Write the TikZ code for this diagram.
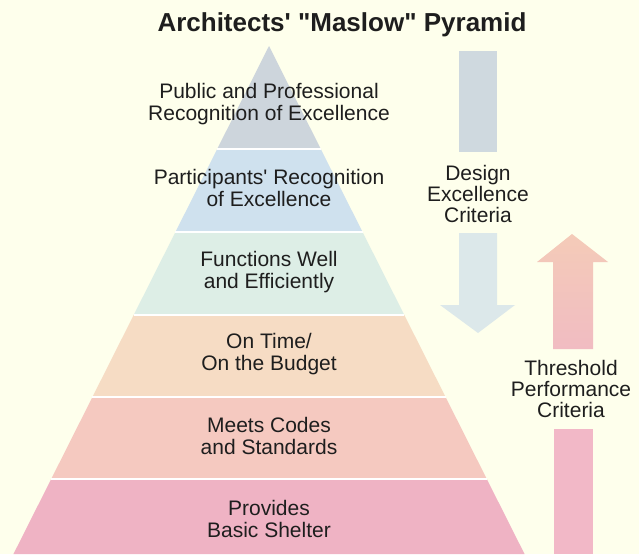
\documentclass[tikz,border=0pt]{standalone}
\usepackage{fontspec}
\setmainfont{Liberation Sans}[Ligatures=TeXOff]
\definecolor{bg}{HTML}{FEFFEC}
\definecolor{bandA}{HTML}{CDD5DC}
\definecolor{bandB}{HTML}{CFE1EE}
\definecolor{bandC}{HTML}{DDEEE6}
\definecolor{bandD}{HTML}{F6DCC4}
\definecolor{bandE}{HTML}{F5C9C0}
\definecolor{bandF}{HTML}{EFB3C4}
\definecolor{blueA}{HTML}{CFD9DF}
\definecolor{blueB}{HTML}{DCE8EA}
\definecolor{redA}{HTML}{F4CBB8}
\definecolor{redB}{HTML}{F1BCC2}
\definecolor{redC}{HTML}{F2B8C7}
\definecolor{ink}{HTML}{1E1E1E}
\tikzset{
  lbl/.style={align=center, inner sep=0pt, text=ink, font=\fontsize{21}{21.3}\selectfont},
  ttl/.style={inner sep=0pt, text=ink, font=\fontsize{26}{28}\selectfont\bfseries},
  sep/.style={draw=white, line width=2pt},
}
\begin{document}
\begin{tikzpicture}[x=1pt,y=-1pt]
\useasboundingbox (0,0) rectangle (639,554);
\fill[bg] (0,0) rectangle (639,554);
% pyramid: apex (269,46), half-width = 0.503*(y-46)
\def\hw#1{0.503*(#1-46)}
\fill[bandA] (269,46) -- ({269+\hw{149}},149) -- ({269-\hw{149}},149) -- cycle;
\fill[bandB] ({269-\hw{149}},149) -- ({269+\hw{149}},149) -- ({269+\hw{232}},232) -- ({269-\hw{232}},232) -- cycle;
\fill[bandC] ({269-\hw{232}},232) -- ({269+\hw{232}},232) -- ({269+\hw{315}},315) -- ({269-\hw{315}},315) -- cycle;
\fill[bandD] ({269-\hw{315}},315) -- ({269+\hw{315}},315) -- ({269+\hw{397}},397) -- ({269-\hw{397}},397) -- cycle;
\fill[bandE] ({269-\hw{397}},397) -- ({269+\hw{397}},397) -- ({269+\hw{479}},479) -- ({269-\hw{479}},479) -- cycle;
\fill[bandF] ({269-\hw{479}},479) -- ({269+\hw{479}},479) -- ({269+\hw{554}},554) -- ({269-\hw{554}},554) -- cycle;
\foreach \yy in {149,232,315,397,479}
  \draw[sep] ({269-\hw{\yy}},\yy) -- ({269+\hw{\yy}},\yy);
% design excellence arrow (downward)
\fill[blueA] (459,51) rectangle (497,152);
\fill[blueB] (459,233) -- (497,233) -- (497,305) -- (515,305) -- (478,333) -- (440,305) -- (459,305) -- cycle;
% threshold performance arrow (upward)
\shade[top color=redA, bottom color=redB] (572,234) -- (608,262) -- (593,262) -- (593,349) -- (553,349) -- (553,262) -- (537,262) -- cycle;
\fill[redC] (554,429) rectangle (593,554);
% texts
\node[ttl] (title) at (342,25) {Architects' "Maslow" Pyramid};
\node[lbl] (l1) at (269,104) {Public and Professional\\Recognition of Excellence};
\node[lbl] (l2) at (269,188) {Participants' Recognition\\of Excellence};
\node[lbl] (l3) at (269,272) {Functions Well\\and Efficiently};
\node[lbl] (l4) at (269,354) {On Time/\\On the Budget};
\node[lbl] (l5) at (269,436) {Meets Codes\\and Standards};
\node[lbl] (l6) at (269,519) {Provides\\Basic Shelter};
\node[lbl] (design) at (478,194) {Design\\Excellence\\Criteria};
\node[lbl] (thresh) at (571,389) {Threshold\\Performance\\Criteria};
\end{tikzpicture}
\end{document}
